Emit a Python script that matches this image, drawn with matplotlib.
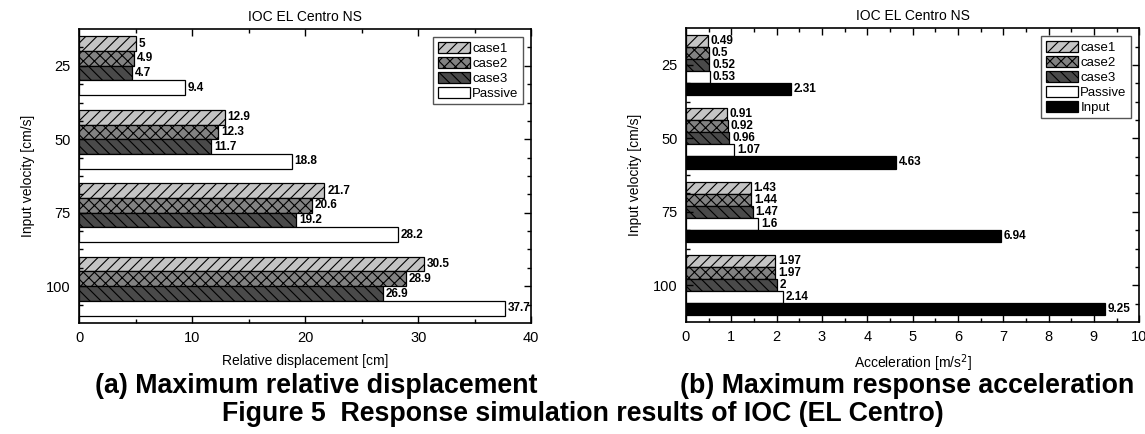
import matplotlib
matplotlib.use('Agg')
import matplotlib.pyplot as plt
from matplotlib.ticker import MultipleLocator, FixedLocator
import numpy as np

plt.rcParams['font.family'] = ['Liberation Sans', 'DejaVu Sans']
plt.rcParams['hatch.linewidth'] = 0.8
plt.rcParams['hatch.color'] = 'black'

velocities = ['25', '50', '75', '100']

# maximum relative displacement [cm]
disp_case1 = [5, 12.9, 21.7, 30.5]
disp_case2 = [4.9, 12.3, 20.6, 28.9]
disp_case3 = [4.7, 11.7, 19.2, 26.9]
disp_passive = [9.4, 18.8, 28.2, 37.7]

# maximum response acceleration [m/s^2]
acc_case1 = [0.49, 0.91, 1.43, 1.97]
acc_case2 = [0.5, 0.92, 1.44, 1.97]
acc_case3 = [0.52, 0.96, 1.47, 2]
acc_passive = [0.53, 1.07, 1.6, 2.14]
acc_input = [2.31, 4.63, 6.94, 9.25]

styles = {
    'case1': dict(color='#c4c4c4', hatch='///'),
    'case2': dict(color='#828282', hatch='xxx'),
    'case3': dict(color='#4a4a4a', hatch='\\\\\\'),
    'Passive': dict(color='white', hatch=None),
    'Input': dict(color='black', hatch=None),
}


def draw_panel(ax, series, width, xmax, xmajor, xminor, xlabel):
    y = np.arange(1, len(velocities) + 1)
    n = len(series)
    for i, (name, vals) in enumerate(series):
        off = (i - (n - 1) / 2) * width
        st = styles[name]
        bars = ax.barh(y + off, vals, height=width, color=st['color'],
                       hatch=st['hatch'], edgecolor='black', linewidth=0.9,
                       label=name)
        ax.bar_label(bars, labels=['%g' % v for v in vals], padding=2,
                     fontsize=8.5, fontweight='bold')
    ax.set_ylim(len(velocities) + 0.5, 0.5)
    ax.set_xlim(0, xmax)
    ax.set_yticks(y)
    ax.set_yticklabels(velocities)
    ax.yaxis.set_minor_locator(FixedLocator(np.arange(0.75, len(velocities) + 0.5, 0.25)))
    ax.xaxis.set_major_locator(MultipleLocator(xmajor))
    ax.xaxis.set_minor_locator(MultipleLocator(xminor))
    ax.tick_params(which='both', direction='in', top=True, right=True,
                   labelsize=10.5, pad=6)
    ax.tick_params(which='major', length=5, width=1)
    ax.tick_params(which='minor', length=3, width=1)
    for s in ax.spines.values():
        s.set_linewidth(1.2)
    ax.set_title('IOC EL Centro NS', fontsize=10, pad=6)
    ax.set_ylabel('Input velocity [cm/s]', fontsize=10, labelpad=8)
    ax.set_xlabel(xlabel, fontsize=10, labelpad=6)
    leg = ax.legend(loc='upper right', fontsize=9.5, fancybox=False,
                    edgecolor='#555555', framealpha=1, handlelength=2.4,
                    handleheight=0.9, handletextpad=0.2, labelspacing=0.15,
                    borderpad=0.35, borderaxespad=0.6)
    leg.get_frame().set_linewidth(1.0)


fig = plt.figure(figsize=(11.45, 4.34), dpi=100)
ax1 = fig.add_axes([0.069, 0.256, 0.395, 0.677])
ax2 = fig.add_axes([0.599, 0.258, 0.396, 0.677])

draw_panel(ax1, [('case1', disp_case1), ('case2', disp_case2),
                 ('case3', disp_case3), ('Passive', disp_passive)],
           0.2, 40, 10, 5, 'Relative displacement [cm]')
draw_panel(ax2, [('case1', acc_case1), ('case2', acc_case2),
                 ('case3', acc_case3), ('Passive', acc_passive),
                 ('Input', acc_input)],
           0.164, 10, 1, 0.5, 'Acceleration [m/s$^2$]')

fig.text(0.276, 0.110, '(a) Maximum relative displacement', ha='center',
         va='center', fontsize=19.3, fontweight='bold')
fig.text(0.792, 0.110, '(b) Maximum response acceleration', ha='center',
         va='center', fontsize=19.3, fontweight='bold')
fig.text(0.509, 0.045, 'Figure 5  Response simulation results of IOC (EL Centro)',
         ha='center', va='center', fontsize=19.3, fontweight='bold')

fig.savefig('out.png', dpi=100)
